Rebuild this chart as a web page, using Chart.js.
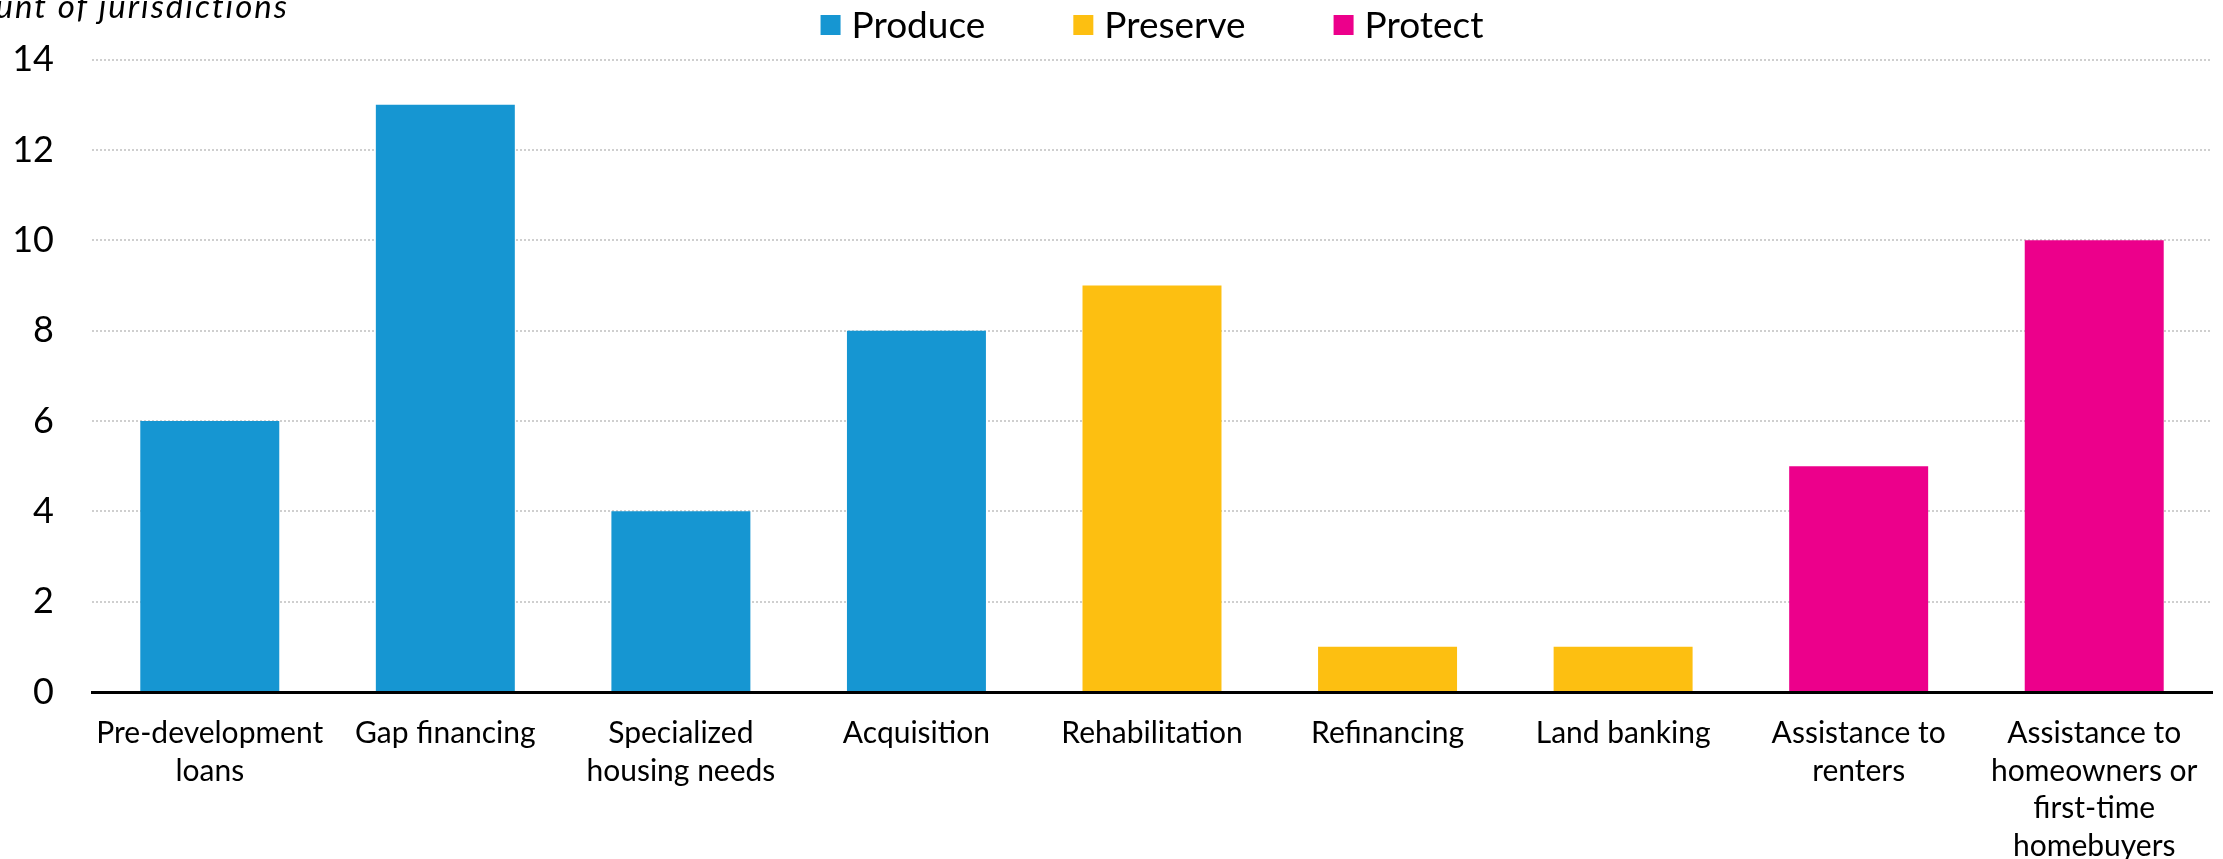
<!DOCTYPE html>
<html>
<head>
<meta charset="utf-8">
<script src="https://cdn.jsdelivr.net/npm/chart.js@4/dist/chart.umd.min.js"></script>
<style>
  html, body { margin: 0; padding: 0; background: #fff; }
  #contenedor { width: 2223px; height: 859px; position: relative; }
</style>
</head>
<body>
<div id="contenedor"><canvas id="grafico"></canvas></div>
<script>
// Datos
const categorias = [
    ["Pre-development", "loans"],
    "Gap financing",
    ["Specialized", "housing needs"],
    "Acquisition",
    "Rehabilitation",
    "Refinancing",
    "Land banking",
    ["Assistance to", "renters"],
    ["Assistance to", "homeowners or", "first-time", "homebuyers"]
];
const produce  = [6, 13, 4, 8, null, null, null, null, null];
const preserve = [null, null, null, null, 9, 1, 1, null, null];
const protect  = [null, null, null, null, null, null, null, 5, 10];
const yTicks = [0, 2, 4, 6, 8, 10, 12, 14];
const tituloY = "Count of jurisdictions";

const colores = {
    Produce: '#1696d2',
    Preserve: '#fdbf11',
    Protect: '#ec008b'
};

const fuente = 'Lato, "Open Sans", sans-serif';

// Leyenda dibujada a mano, centrada sobre el area del grafico
const leyenda = {
    id: 'leyenda',
    afterDraw(chart) {
        const ctx = chart.ctx;
        const area = chart.chartArea;
        const caja = 20, sepTexto = 11, sepItem = 88;
        ctx.save();
        ctx.font = '37px ' + fuente;
        ctx.textBaseline = 'middle';
        let total = 0;
        chart.data.datasets.forEach((ds, i) => {
            total += caja + sepTexto + ctx.measureText(ds.label).width;
            if (i > 0) total += sepItem;
        });
        let x = (area.left + area.right) / 2 - total / 2;
        const y = 25;
        chart.data.datasets.forEach(ds => {
            ctx.fillStyle = ds.backgroundColor;
            ctx.fillRect(x, y - caja / 2, caja, caja);
            x += caja + sepTexto;
            ctx.fillStyle = '#000';
            ctx.fillText(ds.label, x, y + 1);
            x += ctx.measureText(ds.label).width + sepItem;
        });
        ctx.restore();
    }
};

// Titulo del eje Y (cortado a la izquierda como en el original)
const tituloEje = {
    id: 'tituloEje',
    afterDraw(chart) {
        const ctx = chart.ctx;
        ctx.save();
        ctx.font = 'italic 33px ' + fuente;
        ctx.letterSpacing = '2px';
        ctx.fillStyle = '#000';
        ctx.textAlign = 'right';
        ctx.textBaseline = 'alphabetic';
        ctx.fillText(tituloY, 289, 18);
        ctx.restore();
    }
};

const ctx = document.getElementById('grafico').getContext('2d');
new Chart(ctx, {
    type: 'bar',
    data: {
        labels: categorias,
        datasets: [
            { label: 'Produce', data: produce, backgroundColor: colores.Produce },
            { label: 'Preserve', data: preserve, backgroundColor: colores.Preserve },
            { label: 'Protect', data: protect, backgroundColor: colores.Protect }
        ]
    },
    options: {
        responsive: true,
        maintainAspectRatio: false,
        animation: false,
        layout: { padding: { top: 59, right: 11, left: 0, bottom: 0 } },
        datasets: {
            bar: {
                grouped: false,
                skipNull: true,
                barPercentage: 0.59,
                categoryPercentage: 1.0
            }
        },
        plugins: {
            legend: { display: false },
            tooltip: { enabled: false }
        },
        scales: {
            x: {
                grid: { display: false, drawTicks: false },
                border: { display: true, color: '#000', width: 3 },
                ticks: {
                    color: '#000',
                    font: { family: fuente, size: 30, lineHeight: 1.25 },
                    padding: 23,
                    maxRotation: 0,
                    autoSkip: false
                },
                afterFit(scale) { scale.height = 167; }
            },
            y: {
                min: 0,
                max: 14,
                afterBuildTicks(scale) {
                    scale.ticks = yTicks.map(v => ({ value: v }));
                },
                grid: {
                    drawTicks: false,
                    color: c => c.tick.value === 0 ? 'rgba(0,0,0,0)' : '#cfcfcf',
                    lineWidth: 2
                },
                border: { display: false, dash: [2, 2] },
                ticks: {
                    color: '#000',
                    font: { family: fuente, size: 36 },
                    padding: 38
                },
                afterFit(scale) { scale.width = 92; }
            }
        }
    },
    plugins: [leyenda, tituloEje]
});
</script>
</body>
</html>
